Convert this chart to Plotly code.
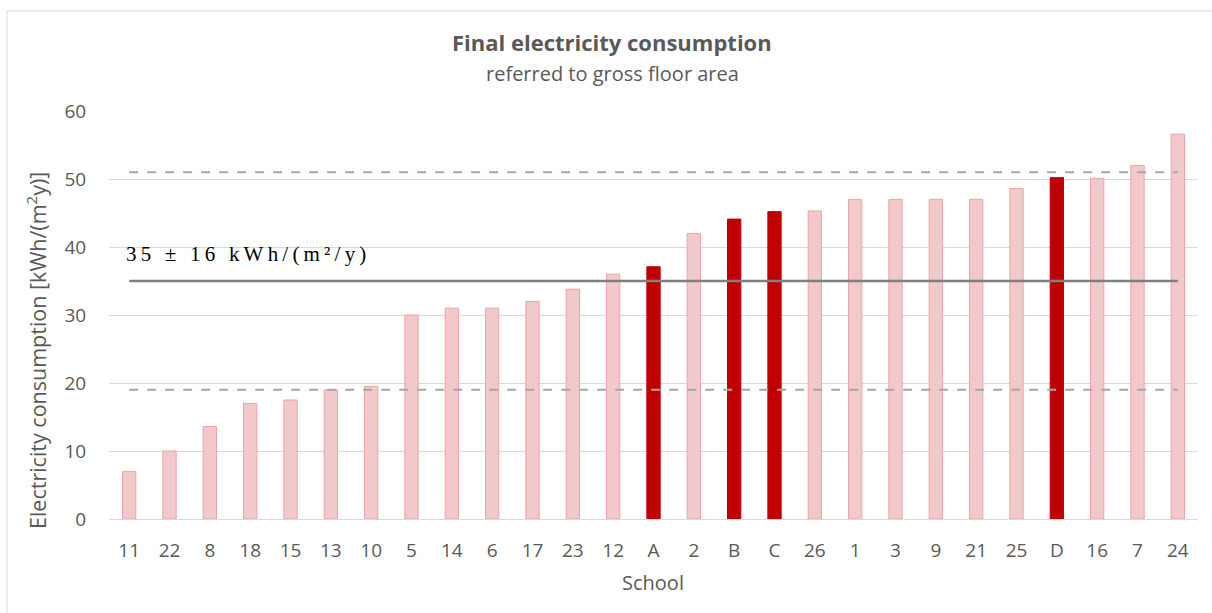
import plotly.graph_objects as go

# School identifiers, sorted by consumption
schools = ["11", "22", "8", "18", "15", "13", "10", "5", "14", "6", "17", "23", "12",
           "A", "2", "B", "C", "26", "1", "3", "9", "21", "25", "D", "16", "7", "24"]
consumption = [7.0, 10.0, 13.6, 17.0, 17.5, 19.0, 19.5, 30.0, 31.0, 31.0, 32.0, 33.8, 36.0,
               37.1, 42.0, 44.1, 45.2, 45.3, 47.0, 47.0, 47.0, 47.0, 48.6, 50.2, 50.1, 52.0, 56.6]
highlighted = ["A", "B", "C", "D"]

mean_value = 35
spread = 16

W, H = 1212, 613
L, R, T, B = 109, 14, 111, 94
pw, ph = W - L - R, H - T - B


def px_x(x):
    return (x - L) / pw


def px_y(y):
    return (H - B - y) / ph


fill = ["#C00000" if s in highlighted else "#F2C9CA" for s in schools]
edge = ["#C00000" if s in highlighted else "#EBA4A5" for s in schools]

fig = go.Figure()
fig.add_trace(go.Bar(
    x=schools, y=consumption, width=0.33,
    marker=dict(color=fill, line=dict(color=edge, width=1)),
    showlegend=False, hoverinfo="x+y",
))

ends = [schools[0], schools[-1]]
for val, dash, col, w in [(mean_value + spread, "dash", "#A6A6A6", 2),
                          (mean_value - spread, "dash", "#A6A6A6", 2),
                          (mean_value, "solid", "#7F7F7F", 2.5)]:
    fig.add_trace(go.Scatter(
        x=ends, y=[val, val], mode="lines",
        line=dict(color=col, width=w, dash=dash),
        showlegend=False, hoverinfo="skip",
    ))

label = "\u2009".join(f"{mean_value} ± {spread} kWh/(m²/y)")

grey = "#595959"
sans = "Open Sans, sans-serif"
tick_font = dict(family=sans, size=19, color=grey)

fig.update_layout(
    width=W, height=H,
    margin=dict(l=L, r=R, t=T, b=B, autoexpand=False),
    paper_bgcolor="white", plot_bgcolor="white",
    xaxis=dict(
        type="category", showgrid=False, showline=True, linecolor="#D9D9D9", linewidth=1,
        ticks="outside", ticklen=14, tickcolor="rgba(0,0,0,0)", tickfont=tick_font,
        zeroline=False,
    ),
    yaxis=dict(
        range=[0, 60], dtick=10, showgrid=True, gridcolor="#D9D9D9", gridwidth=1,
        zeroline=False, showline=False,
        ticks="outside", ticklen=18, tickcolor="rgba(0,0,0,0)", tickfont=tick_font,
    ),
    annotations=[
        dict(text="<b>Final electricity consumption</b>", xref="paper", yref="paper",
             x=px_x(612), y=px_y(42), xanchor="center", yanchor="middle", showarrow=False,
             font=dict(family=sans, size=22, color=grey)),
        dict(text="referred to gross floor area", xref="paper", yref="paper",
             x=px_x(612), y=px_y(73), xanchor="center", yanchor="middle", showarrow=False,
             font=dict(family=sans, size=20, color=grey)),
        dict(text="Electricity consumption [kWh/(m<sup>2</sup>y)]", xref="paper", yref="paper",
             x=px_x(36), y=px_y(351), xanchor="center", yanchor="middle", textangle=-90,
             showarrow=False, font=dict(family=sans, size=21.5, color=grey)),
        dict(text="School", xref="paper", yref="paper",
             x=px_x(653), y=px_y(582), xanchor="center", yanchor="middle", showarrow=False,
             font=dict(family=sans, size=20, color=grey)),
        dict(text=label, xref="paper", yref="paper",
             x=px_x(124), y=px_y(254), xanchor="left", yanchor="middle", showarrow=False,
             font=dict(family="Liberation Serif, serif", size=21, color="#000000")),
    ],
    shapes=[
        dict(type="rect", xref="paper", yref="paper",
             x0=px_x(7), x1=px_x(1220), y0=px_y(620), y1=px_y(11),
             line=dict(color="#D9D9D9", width=1), fillcolor="rgba(0,0,0,0)", layer="below"),
    ],
)

fig.write_html("out.html")
